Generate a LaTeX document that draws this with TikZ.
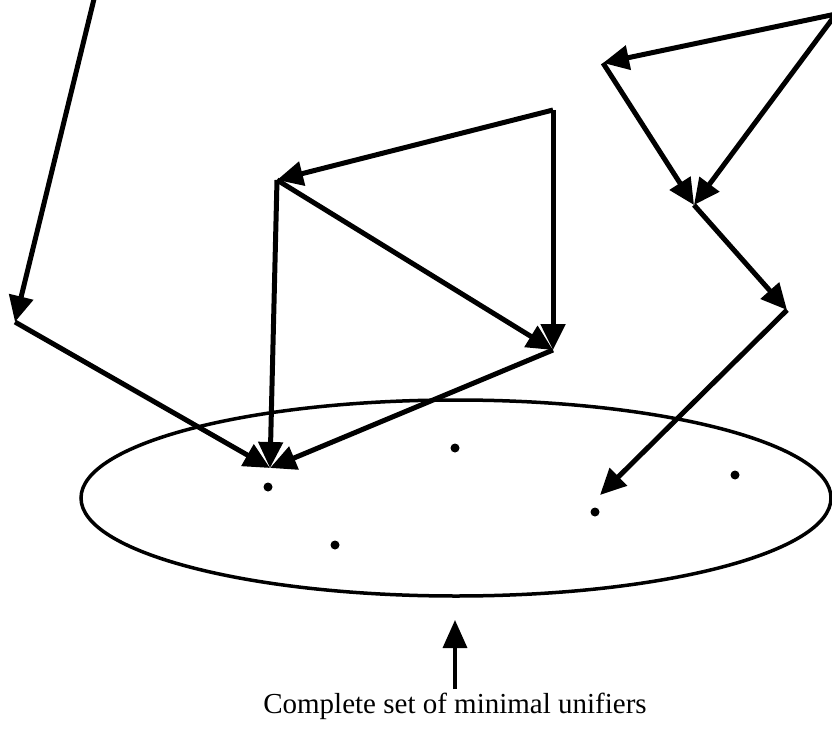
\documentclass[tikz,border=0pt]{standalone}
\usepackage{fontspec}
\setmainfont{Liberation Serif}
\usetikzlibrary{arrows.meta}

\begin{document}
\begin{tikzpicture}[x=1pt,y=-1pt,
  arr/.style={line width=5pt,-{Triangle[length=26pt,width=24pt]}},
  dot/.style={circle,fill,inner sep=0pt,minimum size=9pt}]

\useasboundingbox (0,0) rectangle (832,738);
\clip (0,0) rectangle (832,738);

% Points of the graph
\coordinate (top1) at (95,-5);
\coordinate (a) at (15,322);
\coordinate (b) at (270,468);
\coordinate (c) at (277,180);
\coordinate (d) at (553,110);
\coordinate (e) at (553,350);
\coordinate (f) at (836,14);
\coordinate (g) at (603,63);
\coordinate (h) at (694,205);
\coordinate (i) at (787,310);
\coordinate (j) at (600,495);

% Set of unifiers
\draw[line width=3.5pt] (456,498) ellipse (375 and 98);
\node[dot] (u1) at (268,487) {};
\node[dot] (u2) at (455,448) {};
\node[dot] (u3) at (335,545) {};
\node[dot] (u4) at (595,512) {};
\node[dot] (u5) at (735,475) {};

% Left part
\draw[arr] (top1) -- (a);
\draw[arr] (a) -- (b);
\draw[arr] (d) -- (c);
\draw[arr] (c) -- (b);
\draw[arr] (c) -- (e);
\draw[arr] (d) -- (e);
\draw[arr] (e) -- (b);

% Right part
\draw[arr] (f) -- (g);
\draw[arr] (f) -- (h);
\draw[arr] (g) -- (h);
\draw[arr] (h) -- (i);
\draw[arr] (i) -- (j);

% Label
\node[font=\fontsize{29}{32}\selectfont] (lab) at (455,706) {Complete set of minimal unifiers};
\coordinate (tip) at (455,620);
\draw[line width=3.5pt,-{Triangle[length=28pt,width=24pt]}] (lab.north) -- (tip);

\end{tikzpicture}
\end{document}
